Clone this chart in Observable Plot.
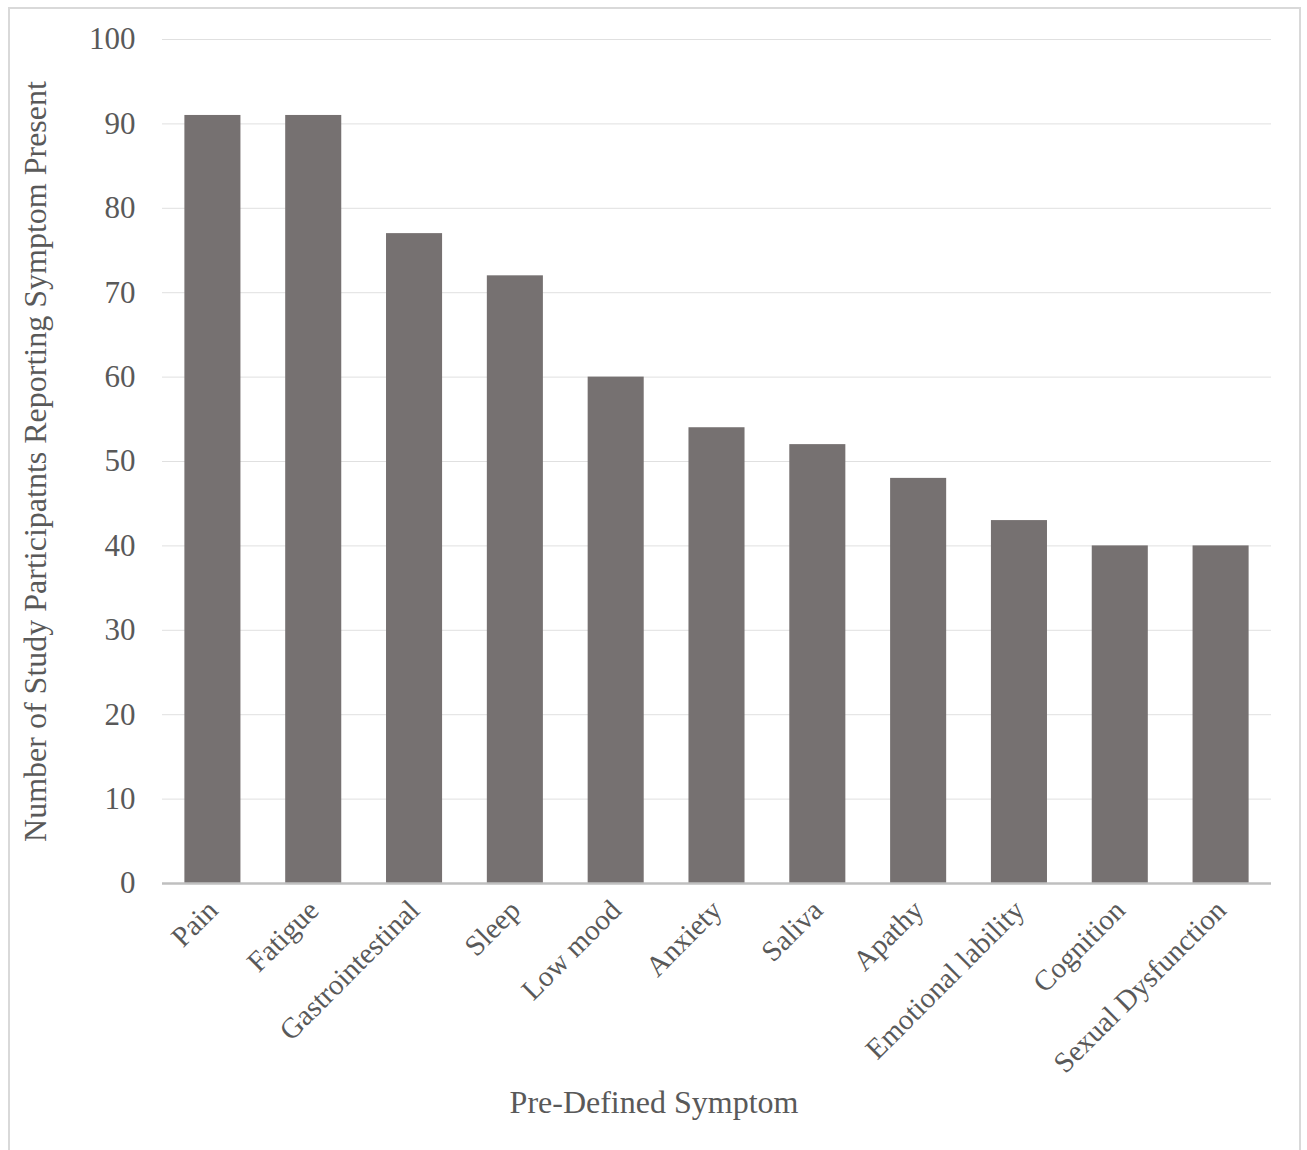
<!DOCTYPE html>
<html><head><meta charset="utf-8">
<script src="https://cdn.jsdelivr.net/npm/d3@7"></script>
<script src="https://cdn.jsdelivr.net/npm/@observablehq/plot@0.6"></script>
<style>
body{margin:0;background:#fff;font-family:"Liberation Serif","Times New Roman",serif;}
#wrap{position:relative;width:1307px;height:1150px;overflow:hidden;}
#frame{position:absolute;left:8px;top:7px;width:1293px;height:1200px;border:2px solid #d9d9d9;box-sizing:border-box;}
#chart{position:absolute;left:0;top:0;}
#xtitle{position:absolute;left:8px;width:1292px;top:1084px;text-align:center;font-size:32px;color:#595959;}
</style></head>
<body>
<div id="wrap"><div id="frame"></div><div id="chart"></div><div id="xtitle">Pre-Defined Symptom</div></div>
<script>
const symptoms = ["Pain","Fatigue","Gastrointestinal","Sleep","Low mood","Anxiety","Saliva","Apathy","Emotional lability","Cognition","Sexual Dysfunction"];
const counts = [91,91,77,72,60,54,52,48,43,40,40];
const yTicks = [0,10,20,30,40,50,60,70,80,90,100];
const yTitle = "Number of Study Participatnts Reporting Symptom Present";

const data = symptoms.map((s,i)=>({symptom:s, count:counts[i]}));

const chart = Plot.plot({
  width: 1307,
  height: 1150,
  marginLeft: 162,
  marginRight: 36,
  marginTop: 39,
  marginBottom: 267,
  style: {fontFamily: '"Liberation Serif","Times New Roman",serif', background: "transparent", color: "#595959"},
  x: {domain: symptoms, paddingInner: 0.444, paddingOuter: 0.222, round: false, label: null},
  y: {domain: [0,100], label: null},
  marks: [
    Plot.gridY(yTicks.filter(d=>d>0), {stroke: "#e0e0e0", strokeOpacity: 1, strokeWidth: 1}),
    Plot.barY(data, {x: "symptom", y: "count", fill: "#767171"}),
    Plot.ruleY([0], {stroke: "#bfbfbf", strokeWidth: 2.5}),
    Plot.axisY(yTicks, {tickSize: 0, tickPadding: 27, fontSize: 31, fill: "#595959", label: null}),
    Plot.axisX({tickSize: 0, tickPadding: 22, tickRotate: -45, fontSize: 29, fill: "#595959", label: null}),
    Plot.text([yTitle], {frameAnchor: "left", dx: -127, rotate: -90, fontSize: 32, fill: "#595959", textAnchor: "middle"})
  ]
});
document.getElementById("chart").appendChild(chart);
</script>
</body></html>
